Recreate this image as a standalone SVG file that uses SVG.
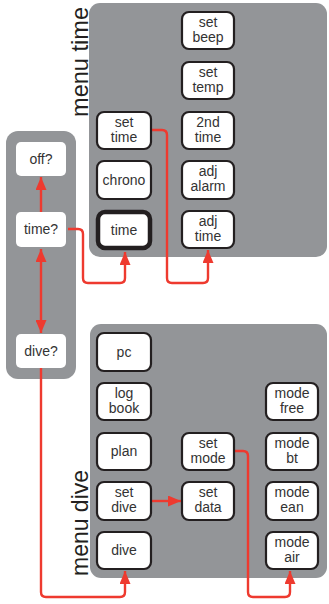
<svg xmlns="http://www.w3.org/2000/svg" width="329" height="604" viewBox="0 0 329 604">
<style>
.panel{fill:#939598}
.box{fill:#fff;stroke:#231f20;stroke-width:2.2}
.thick{stroke-width:4.5}
.plain{fill:#fff}
text{font-family:"Liberation Sans",Arial,sans-serif;font-size:14px;fill:#333;text-anchor:middle}
.title{font-size:24px;fill:#231f20;text-anchor:start}
.wire{fill:none;stroke:#ee3a2f;stroke-width:2.4;marker-end:url(#ah)}
</style>
<defs>
<marker id="ah" markerUnits="userSpaceOnUse" markerWidth="13" markerHeight="11" refX="13" refY="5.5" orient="auto-start-reverse" viewBox="0 0 13 11">
<path d="M0,0 L13,5.5 L0,11 z" fill="#ee3a2f"/>
</marker>
</defs>
<g id="panels">
<rect class="panel" x="89" y="3" width="238" height="254" rx="11"/>
<rect class="panel" x="6" y="131" width="70" height="248" rx="12"/>
<rect class="panel" x="90" y="324" width="237" height="254" rx="11"/>
<text class="title" transform="translate(88,117) rotate(-90)" textLength="110" lengthAdjust="spacingAndGlyphs">menu time</text>
<text class="title" transform="translate(88,576) rotate(-90)" textLength="106" lengthAdjust="spacingAndGlyphs">menu dive</text>
</g>
<g id="connectors">
<path class="wire" d="M41,212 V177"/>
<path class="wire" d="M41,249 V333" style="marker-start:url(#ah)"/>
<path class="wire" d="M68,229 H78 Q83,229 83,234 V278 Q83,283 88,283 H120 Q125,283 125,278 V252"/>
<path class="wire" d="M152,130 H162 Q167,130 167,135 V278 Q167,283 172,283 H203 Q208,283 208,278 V250"/>
<path class="wire" d="M41,368 V592 Q41,597 46,597 H120 Q125,597 125,592 V571"/>
<path class="wire" d="M152,501 H181"/>
<path class="wire" d="M235,451 H243 Q248,451 248,456 V592 Q248,597 253,597 H285 Q290,597 290,592 V571"/>
</g>
<g id="off"><rect class="plain" x="16" y="142" width="50" height="34" rx="5"/><text x="41" y="164">off?</text></g>
<g id="timeq"><rect class="plain" x="16" y="212" width="50" height="35" rx="5"/><text x="41" y="234">time?</text></g>
<g id="diveq"><rect class="plain" x="16" y="334" width="50" height="34" rx="5"/><text x="41" y="356">dive?</text></g>

<g id="settime"><rect class="box" x="97" y="112" width="54" height="37" rx="7"/><text x="124" y="127">set</text><text x="124" y="142">time</text></g>
<g id="chrono"><rect class="box" x="97" y="161" width="54" height="38" rx="7"/><text x="124" y="185">chrono</text></g>
<g id="time"><rect class="box thick" x="98" y="212" width="52" height="36" rx="7"/><text x="124" y="235">time</text></g>

<g id="setbeep"><rect class="box" x="182" y="12" width="52" height="37" rx="7"/><text x="208" y="27">set</text><text x="208" y="42">beep</text></g>
<g id="settemp"><rect class="box" x="182" y="62" width="52" height="37" rx="7"/><text x="208" y="77">set</text><text x="208" y="92">temp</text></g>
<g id="secondtime"><rect class="box" x="182" y="112" width="52" height="37" rx="7"/><text x="208" y="127">2nd</text><text x="208" y="142">time</text></g>
<g id="adjalarm"><rect class="box" x="182" y="161" width="52" height="38" rx="7"/><text x="208" y="176">adj</text><text x="208" y="191">alarm</text></g>
<g id="adjtime"><rect class="box" x="182" y="211" width="52" height="37" rx="7"/><text x="208" y="226">adj</text><text x="208" y="241">time</text></g>

<g id="pc"><rect class="box" x="97" y="333" width="54" height="38" rx="7"/><text x="124" y="357">pc</text></g>
<g id="logbook"><rect class="box" x="97" y="383" width="54" height="37" rx="7"/><text x="124" y="398">log</text><text x="124" y="413">book</text></g>
<g id="plan"><rect class="box" x="97" y="433" width="54" height="37" rx="7"/><text x="124" y="456">plan</text></g>
<g id="setdive"><rect class="box" x="97" y="482" width="54" height="38" rx="7"/><text x="124" y="497">set</text><text x="124" y="512">dive</text></g>
<g id="dive"><rect class="box" x="97" y="532" width="54" height="37" rx="7"/><text x="124" y="555">dive</text></g>

<g id="setmode"><rect class="box" x="182" y="433" width="52" height="37" rx="7"/><text x="208" y="448">set</text><text x="208" y="463">mode</text></g>
<g id="setdata"><rect class="box" x="182" y="482" width="52" height="38" rx="7"/><text x="208" y="497">set</text><text x="208" y="512">data</text></g>

<g id="modefree"><rect class="box" x="266" y="383" width="52" height="37" rx="7"/><text x="292" y="398">mode</text><text x="292" y="413">free</text></g>
<g id="modebt"><rect class="box" x="266" y="433" width="52" height="37" rx="7"/><text x="292" y="448">mode</text><text x="292" y="463">bt</text></g>
<g id="modeean"><rect class="box" x="266" y="482" width="52" height="38" rx="7"/><text x="292" y="497">mode</text><text x="292" y="512">ean</text></g>
<g id="modeair"><rect class="box" x="266" y="532" width="52" height="37" rx="7"/><text x="292" y="547">mode</text><text x="292" y="562">air</text></g>
</svg>
